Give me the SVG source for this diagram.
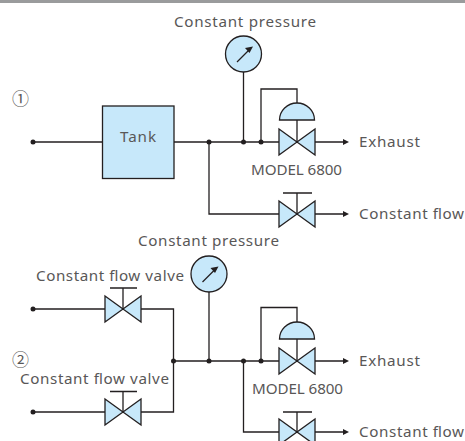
<svg xmlns="http://www.w3.org/2000/svg" width="465" height="441" viewBox="0 0 465 441">
<style>
.l{fill:none;stroke:#231f20;stroke-width:1.3}
.s{fill:#c7e8fa;stroke:#231f20;stroke-width:1.3}
.d{fill:#231f20}
text{font-family:"Noto Sans","Noto Sans CJK JP",sans-serif;font-size:15.2px;fill:#595757}
.n{font-size:17px}
</style>
<defs>
<g id="valve"><path class="s" d="M-18-13V13L18-13V13Z"/></g>
<g id="gauge"><circle class="s" r="18"/><path class="l" d="M-6.500 8L6-4.500"/><path class="d" d="M9.500-7.500L1.500-6 6-1Z"/></g>
<g id="dome"><path class="s" d="M-17.500 0A17.500 17 0 0 1 17.500 0Z"/></g>
<path id="ah" class="d" d="M0-3L6 0 0 3Z"/>
</defs>
<rect id="topbar" width="465" height="3" fill="#9a9b9c"/>
<g id="connectors">
<path class="l" d="M33 142H103M174 142H279M315 142H343M243.500 72V142M261 142V89H297V103M297 120V142M209 142V214H279M315 214H343M297 193V214M283 193H312"/>
<path class="l" d="M33 309H105M141 309H173.500V412H141M33 412H105M123 288V309M110 288H137M123 391.500V412M110 391.500H137M173.500 361H279M315 361H343M209 292V361M261 361V307.500H297V322M297 339V361M243.500 361V432H279M315 432H343M297 412V432M283 412H312"/>
<g class="d"><circle cx="33" cy="142" r="2.500"/><circle cx="209" cy="142" r="2.500"/><circle cx="243.500" cy="142" r="2.500"/><circle cx="261" cy="142" r="2.500"/>
<circle cx="33" cy="309" r="2.500"/><circle cx="33" cy="412" r="2.500"/><circle cx="173.500" cy="361" r="2.500"/><circle cx="209" cy="361" r="2.500"/><circle cx="243.500" cy="361" r="2.500"/><circle cx="261" cy="361" r="2.500"/></g>
<use href="#ah" x="343" y="142"/><use href="#ah" x="343" y="214"/><use href="#ah" x="343" y="361"/><use href="#ah" x="343" y="432"/>
</g>
<g id="tank"><rect class="s" x="102.500" y="106" width="71.500" height="72.500"/><text x="120" y="142" textLength="36">Tank</text></g>
<g id="gauge1"><use href="#gauge" x="243.500" y="54"/><text x="174" y="27" textLength="142">Constant pressure</text></g>
<g id="gauge2"><use href="#gauge" x="209" y="274"/><text x="138" y="246" textLength="141">Constant pressure</text></g>
<g id="regulator1"><use href="#dome" x="297" y="120"/><use href="#valve" x="297" y="142"/><text x="251" y="175" textLength="91">MODEL 6800</text></g>
<g id="regulator2"><use href="#dome" x="297" y="339"/><use href="#valve" x="297" y="361"/><text x="252" y="394" textLength="91">MODEL 6800</text></g>
<g id="valve1"><use href="#valve" x="297" y="214"/></g>
<g id="valve2"><use href="#valve" x="297" y="432"/></g>
<g id="valve3"><use href="#valve" x="123" y="309"/><text x="36" y="281" textLength="148">Constant flow valve</text></g>
<g id="valve4"><use href="#valve" x="123" y="412"/><text x="20" y="384" textLength="149">Constant flow valve</text></g>
<g id="labels">
<text x="359" y="147" textLength="61">Exhaust</text><text x="359" y="218.500" textLength="105">Constant flow</text>
<text x="359" y="366" textLength="61">Exhaust</text><text x="359" y="437" textLength="105">Constant flow</text>
<text class="n" x="12" y="105">①</text><text class="n" x="12" y="366">②</text>
</g>
</svg>
